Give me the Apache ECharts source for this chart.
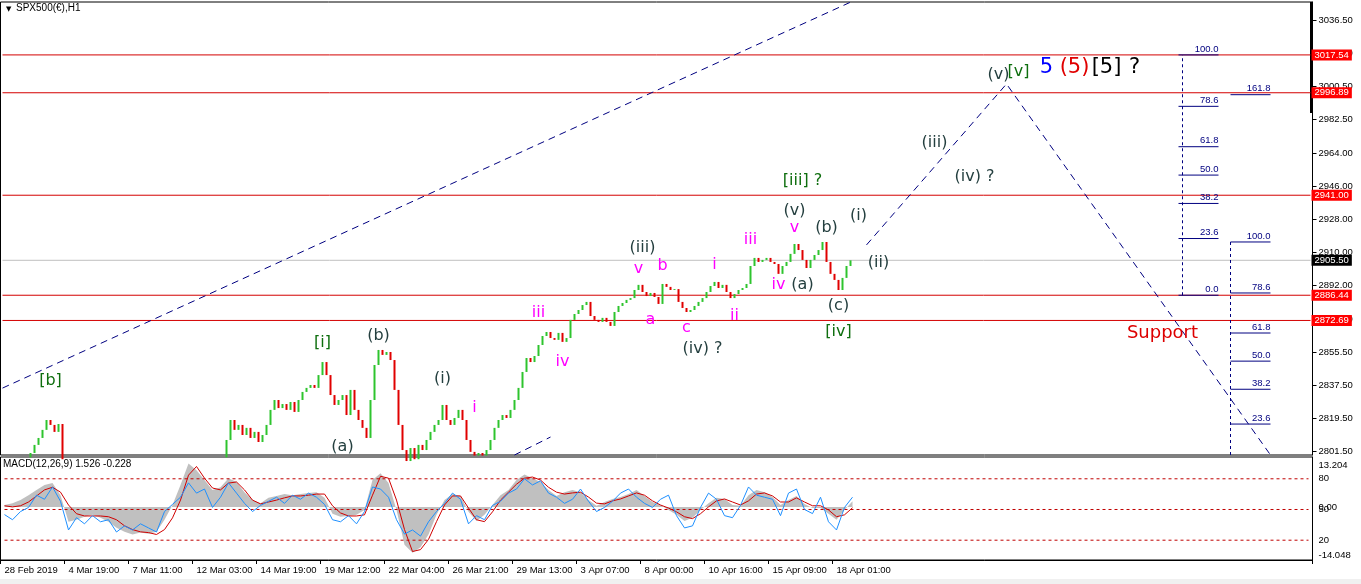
<!DOCTYPE html>
<html><head><meta charset="utf-8">
<script src="https://cdn.jsdelivr.net/npm/echarts@6/dist/echarts.min.js"></script>
<style>html,body{margin:0;padding:0;background:#fff}#c{width:1361px;height:584px}</style>
</head><body><div id="c"></div><script>
// ---- price closes (H1 bars grouped by 4 hours) ----
const closes = [
2795,2796,2794,2795,2797,2796,2798,2800.4,2804.8,2808.6,2813,2818.4,2815.7,2811.9,2816.2,2797,
2790,2788,2786,2788,2785,2783,2785,2782,2780,2778,2780,2777,2775,2777,2774,2772,2774,2771,2770,2772,
2770,2768,2766,2768,2770,2774,2778,2782,2786,2790,2794,2796,2795,2793,2791,2793,2795,2794,2796,2798,
2807.5,2818.4,2813,2815.7,2810.2,2814.1,2808.6,2811.9,2806.4,2810.2,
2815.7,2823.9,2829.3,2824.9,2827.1,2823.9,2828.2,2822.8,2829.3,2833.7,
2835.9,2837.5,2835.9,2842.9,2850,2842.9,2832,2826.6,2829.3,2832,
2821.1,2834.8,2823.9,2818.4,2814.1,2808.6,2829.3,2848.4,2856.6,2853.9,
2855.5,2851.1,2834.8,2815.7,2802,2796,2803.1,2797,2804.8,2802,
2807.5,2811.9,2815.7,2818.4,2826.6,2818.4,2815.7,2819.5,2823.9,2818.4,
2807.5,2801,2799,2800.4,2799,2802,2807.5,2814.1,2818.4,2821.1,
2819.5,2823.9,2829.3,2835.9,2844.6,2852.2,2850,2853.3,2859.3,2864.2,
2866.4,2863.1,2862.1,2865.9,2861,2863.1,2873,2876.2,2878.4,2881.1,
2882.8,2875.1,2873,2871.9,2874.1,2871.9,2869.7,2877.3,2880.6,2882.2,
2883.9,2884.9,2889.3,2892.1,2888.2,2886,2887.7,2885.5,2881.7,2892.6,
2891,2889.3,2889.8,2882.8,2879.5,2877.3,2878.4,2880.6,2882.8,2884.9,
2888.2,2891.5,2893.7,2890.4,2892.1,2888.2,2884.9,2887.1,2889.3,2890.4,
2892.6,2902.4,2906.8,2904.6,2905.7,2906.8,2904.6,2903.5,2898.1,2902.4,
2904.6,2909,2914.4,2911.1,2905.7,2901.3,2905.7,2908.4,2911.1,2915.5,
2904.6,2898.1,2894.8,2889.3,2895.9,2902.4,2905.5
];
const highs = [
2797,2798,2797,2797,2799,2799,2800,2802,2806,2810,2815,2820,2820,2817,2818.5,2817,
2798,2792,2790,2790,2790,2787,2787,2787,2784,2782,2782,2782,2779,2779,2779,2776,2776,2776,2773,2774,
2774,2772,2770,2770,2772,2776,2780,2784,2788,2792,2796,2798,2798,2797,2795,2795,2797,2797,2798,2800,
2809,2820,2820.5,2818,2817,2816,2815,2814,2813,2812,
2817,2826,2832,2831,2830,2829,2831,2830,2831,2836,
2838,2840,2839,2845,2853,2851,2844,2834,2832,2835,
2833,2843,2836,2826,2820,2816,2831,2850,2859,2858,
2858,2857,2852,2836,2817,2804,2806,2805,2807,2806,
2809,2814,2818,2821,2829,2828,2820,2822,2826,2825,
2819,2809,2803,2802.5,2802,2804,2809,2816,2820,2823,
2823,2826,2831,2838,2846,2854,2854,2855,2861,2866,
2869,2868,2865,2868,2867,2865,2875,2878.5,2881,2883.5,
2885,2884,2877,2875.5,2877,2876,2874,2879,2882.5,2884,
2886,2887,2891,2894,2893,2890,2890,2889.5,2887,2894.5,
2894,2892.5,2892,2891,2884.5,2881,2880.5,2882.5,2884.5,2887,
2890,2893.5,2895.5,2894.5,2894.5,2893.5,2889.5,2889,2891,2892.5,
2894.5,2904,2909,2908.5,2908,2909,2908.5,2906.5,2905,2904,
2906.5,2911,2917,2916,2912.5,2907,2907.5,2910.5,2913,2918.6,
2916.5,2906,2900,2896,2898,2904,2908.5
];
const lows = [
2793,2794,2792,2793,2794,2794,2795,2797,2799,2803,2807,2812,2814,2810,2810.5,2795,
2788,2786,2784,2784,2783,2781,2781,2780,2778,2776,2776,2775,2773,2773,2772,2770,2770,2769,2768,2768,
2768,2766,2764,2764,2766,2768,2772,2776,2780,2784,2788,2792,2793,2791,2789,2789,2791,2792,2792,2794,
2797,2806,2811,2811,2808,2808,2806,2807,2804,2805,
2809,2814,2822,2823,2823,2821,2822,2820,2821,2828,
2832,2834,2834,2835,2841,2840,2829,2823,2825,2827,
2818,2820,2822,2816,2812,2806.5,2807,2828,2847,2852,
2852,2848,2832,2813,2799,2793,2794,2795,2796,2800,
2801,2806,2810,2814,2817,2816,2813,2814,2818,2816,
2805,2799,2797,2797,2797,2797.5,2800.5,2806,2812,2816.5,
2817,2818,2822,2828,2834,2843,2848,2848.5,2852,2857,
2862.5,2861,2860,2860.5,2857,2859,2862,2871,2874.5,2877,
2879,2864,2871,2869,2870,2869.5,2865,2868.5,2876,2879,
2880.5,2882,2883.5,2888,2886.5,2884,2884.5,2883.5,2878.5,2881,
2889,2887.5,2887.5,2880.5,2877,2875,2875.5,2876.5,2879,2881,
2883.5,2887,2890,2888.5,2889,2886,2881.5,2883,2885.5,2887.5,
2889,2891.5,2901,2903,2903,2904,2903,2901.5,2893.5,2897,
2901,2903.5,2908,2909.5,2904,2896.5,2900,2904.5,2907,2910,
2902,2895.5,2891.5,2885.5,2887.5,2891,2900.5
];
// ---- MACD pane (8-hour steps) ----
const macdMain = [
0.5,1.0,1.8,3.1,4.5,5.8,6.3,3.1,-3.9,-3.4,-2.6,-2.1,-2.9,-3.9,-5.5,-6.6,-7.3,-6.8,-7.1,-6.6,
-3.4,0.5,5.8,11.5,9.7,7.1,4.5,5.2,7.6,6.6,3.9,1.8,1.0,2.4,2.9,3.4,3.1,3.4,3.7,3.9,
2.4,-1.8,-2.6,-2.4,-2.1,-0.8,7.1,8.9,6.3,-0.8,-10.0,-12.1,-10.7,-7.3,-2.1,1.8,3.4,2.9,-1.3,-3.7,
-2.1,0.5,3.1,4.5,7.1,8.6,7.6,6.6,4.5,2.9,3.9,4.5,3.9,1.8,0.3,1.3,2.1,2.6,3.4,4.5,
2.9,1.3,0.5,-0.8,-2.1,-3.7,-2.9,-0.8,1.0,2.4,2.1,0.5,0.3,3.1,4.5,3.9,2.6,0.5,1.8,2.9,
0.8,-0.3,-0.3,-1.8,-3.4,-0.8,1.526
];
const macdSignal = [
0.3,0,0.3,1.3,2.9,4.5,5.2,3.9,0.5,-1.8,-2.4,-2.4,-2.4,-2.6,-3.4,-5.0,-6.0,-6.6,-6.8,-7.3,
-6.0,-2.9,1.8,8.4,10.7,7.6,5.0,4.5,6.3,6.6,4.5,1.8,0.8,1.3,1.8,2.4,2.9,2.9,3.1,3.4,
3.4,0.3,-1.6,-2.4,-2.4,-2.1,3.1,8.1,7.6,1.8,-6.0,-11.8,-11.3,-8.6,-3.9,0.5,2.9,2.9,-0.3,-3.4,
-3.9,-1.3,1.8,3.9,6.0,7.6,7.9,7.1,5.2,3.9,3.4,3.7,3.9,2.6,1.0,0.8,1.6,2.1,2.9,3.7,
3.1,1.6,0.5,-0.3,-1.3,-2.6,-3.1,-1.8,0,1.6,2.1,1.3,0.5,1.6,3.4,3.7,2.9,1.3,1.3,2.4,
1.3,0.3,0.3,-0.8,-2.6,-2.1,-0.228
];
const oscLine = [
45,40,48,52,64,60,72,58,30,42,36,44,38,40,28,34,30,36,32,28,
48,55,62,76,66,70,52,62,76,66,56,48,54,58,62,56,64,60,66,62,
55,40,38,44,36,48,72,70,62,40,26,30,24,38,48,56,66,60,36,44,
40,54,58,66,70,80,74,78,66,62,56,60,70,58,48,52,58,66,70,62,
56,52,60,64,44,32,34,52,66,60,44,42,54,72,64,62,60,44,66,70,
50,46,62,38,30,52,62
];
const oscLevels = [80, 50, 20];
const xTickLabels = ["28 Feb 2019","4 Mar 19:00","7 Mar 11:00","12 Mar 03:00","14 Mar 19:00","19 Mar 12:00","22 Mar 04:00","26 Mar 21:00","29 Mar 13:00","3 Apr 07:00","8 Apr 00:00","10 Apr 16:00","15 Apr 09:00","18 Apr 01:00"];
const yTickValues = [2801.5,2819.5,2837.5,2855.5,2873.5,2892,2910,2928,2946,2964,2982.5,3000.5,3018.5,3036.5];
const hLevels = [3017.54, 2996.89, 2941.00, 2886.44, 2872.69];
const lastPrice = 2905.50;
const fibA = {zero: 2886.44, full: 3017.54, ratios: [0, 23.6, 38.2, 50, 61.8, 78.6, 100]};
const fibB = {zero: 2785.5, full: 2915.5, ratios: [23.6, 38.2, 50, 61.8, 78.6, 100, 161.8]};
// trendlines: [category, price] pairs
const trendLines = [
  [[0, 2835.8], [212, 3046.3]],
  [[128, 2799.3], [137, 2809.1]],
  [[216, 2913.9], [251, 3001.7], [317, 2799.3]]
];
// annotations: text, category, price, style
const annotations = [
 ["[b]",12,2839.7,"g"],["[i]",80,2860.4,"g"],["(b)",94,2864.2,"s"],["(a)",85,2803.5,"s"],
 ["(i)",110,2840.8,"s"],["i",118,2824.9,"m"],["iii",134,2876.8,"m"],["iv",140,2850.0,"m"],
 ["(iii)",160,2912.2,"s"],["v",159,2900.8,"m"],["b",165,2902.4,"m"],["a",162,2873.0,"m"],
 ["c",171,2868.6,"m"],["(iv) ?",175,2857.1,"s"],["i",178,2903.0,"m"],["ii",183,2875.1,"m"],
 ["iii",187,2916.6,"m"],["iv",194,2892.0,"m"],["[iii] ?",200,2948.8,"g"],["(v)",198,2932.4,"s"],
 ["v",198,2923.1,"m"],["(b)",206,2923.1,"s"],["(a)",200,2892.0,"s"],["(c)",209,2880.6,"s"],
 ["[iv]",209,2866.4,"g"],["(i)",214,2929.7,"s"],["(ii)",219,2904.0,"s"],["(iii)",233,2969.5,"s"],
 ["(iv) ?",243,2951.0,"s"],["(v)",249,3006.6,"s"],["[v]",254,3008.2,"g"],
 ["5",261,3010.9,"B5"],["(5)",268,3010.9,"R5"],["[5]",276,3010.9,"K5"],["?",283,3010.9,"K5"],
 ["Support",290,2865.8,"sup"]
];
const annStyles = {
  g:{color:'#0E6E0E',fontSize:16}, s:{color:'#243F3F',fontSize:16}, m:{color:'#FF00FF',fontSize:16},
  B5:{color:'#0000FF',fontSize:21}, R5:{color:'#E00000',fontSize:21}, K5:{color:'#000000',fontSize:21},
  sup:{color:'#DD0000',fontSize:18}
};

const NCAT = 328, NCAT2 = 164;
const cats = Array.from({length:NCAT}, (_,i)=>String(i));
const cats2 = Array.from({length:NCAT2}, (_,j)=> (j%8===0 && j/8 < xTickLabels.length) ? xTickLabels[j/8] : '');
const opens = closes.map((c,i)=> i ? closes[i-1] : c);
const wickData = closes.map((c,i)=>[lows[i], highs[i], lows[i], highs[i]]);
const bodyData = closes.map((c,i)=>[opens[i], c, Math.min(opens[i],c), Math.max(opens[i],c)]);

const NAVY = '#000080';
const FONT = 'Liberation Sans';
const overlay = [];
function seg(points, color, type, xi, yi, endLabel, z){
  overlay.push({type:'line', xAxisIndex:xi||0, yAxisIndex:yi||0, data:points, showSymbol:false, symbol:'none',
    silent:true, animation:false, z:z||3, clip:false,
    lineStyle:{color:color, width:1, type:type||'solid'},
    endLabel: endLabel || {show:false}});
}
const tag = (txt,bg)=>({show:true,formatter:txt,distance:1,backgroundColor:bg,color:'#fff',fontFamily:FONT,fontSize:9.5,padding:[1,3,0,3]});
hLevels.forEach(v=>seg([[0,v],[NCAT-1,v]], '#D40000', 'solid', 0, 0, tag(v.toFixed(2),'#FF0000')));
seg([[0,lastPrice],[NCAT-1,lastPrice]], '#C0C0C0', 'solid', 0, 0, tag(lastPrice.toFixed(2),'#000'), 2);
trendLines.forEach(t=>seg(t, NAVY, [7,5]));
function fib(f, c0, c1, cv, bottom){
  const rng = f.full - f.zero;
  seg([[cv, bottom!==undefined?bottom:f.zero],[cv, f.full]], NAVY, [3,3]);
  f.ratios.forEach(r=>{
    const p = f.zero + r/100*rng;
    seg([[c0,p],[c1,p]], NAVY, 'solid', 0, 0,
      {show:true,formatter:r.toFixed(1),align:'right',verticalAlign:'bottom',distance:0,offset:[0,-1],color:NAVY,fontFamily:FONT,fontSize:9.5});
  });
}
fib(fibA, 294, 304, 295);
fib(fibB, 307, 317, 307, 2799.3);
oscLevels.forEach(v=>seg([[0,v],[NCAT2-1,v]], '#C00000', [3,3], 1, 2));

const annData = annotations.map(a=>({value:[a[1],a[2]], label:{show:true,position:'inside',formatter:a[0],
  color:annStyles[a[3]].color,fontSize:annStyles[a[3]].fontSize,fontFamily:'DejaVu Sans',
  textBorderWidth:0,textShadowBlur:0,opacity:1}}));

const chart = echarts.init(document.getElementById('c'), null, {renderer:'canvas'});
const axLbl = {color:'#000',fontFamily:FONT,fontSize:9.5};
chart.setOption({
  animation:false,
  backgroundColor:'#fff',
  grid:[
    {left:0.5,right:48.5,top:2,height:453,show:true,borderColor:'#000',borderWidth:1,backgroundColor:'#fff'},
    {left:0.5,right:48.5,top:457,height:103,show:true,borderColor:'#000',borderWidth:1,backgroundColor:'#fff'}
  ],
  xAxis:[
    {type:'category',gridIndex:0,data:cats,boundaryGap:true,axisLine:{show:false},axisTick:{show:false},axisLabel:{show:false},splitLine:{show:false}},
    {type:'category',gridIndex:1,data:cats2,boundaryGap:true,position:'bottom',axisLine:{show:true,onZero:false,lineStyle:{color:'#000'}},
      axisTick:{show:true,length:4,interval:(i,v)=>v!=='',lineStyle:{color:'#000'}},
      axisLabel:Object.assign({show:true,align:'left',margin:5,interval:(i,v)=>v!==''},axLbl),splitLine:{show:false}}
  ],
  yAxis:[
    {type:'value',gridIndex:0,position:'right',min:2799.3,max:3046.4,scale:true,splitLine:{show:false},
      axisLine:{show:true,lineStyle:{color:'#000'}},
      axisTick:{show:true,length:4,customValues:yTickValues,lineStyle:{color:'#000'}},
      axisLabel:Object.assign({customValues:yTickValues,formatter:v=>v.toFixed(2),margin:6},axLbl)},
    {type:'value',gridIndex:1,position:'right',min:-14.048,max:13.204,splitLine:{show:false},
      axisLine:{show:true,lineStyle:{color:'#000'}},
      axisTick:{show:false},
      axisLabel:Object.assign({customValues:[-14.048,0,13.204],margin:6,
        formatter:v=> v>13 ? '{t|13.204}' : (v< -14 ? '{b|-14.048}' : '0.00'),
        rich:{t:{padding:[16,0,0,0],fontFamily:FONT,fontSize:9.5,color:'#000'},b:{padding:[0,0,10,0],fontFamily:FONT,fontSize:9.5,color:'#000'}}},axLbl)},
    {type:'value',gridIndex:1,position:'right',min:0.645,max:101.29,splitLine:{show:false},
      axisLine:{show:false},axisTick:{show:false},
      axisLabel:Object.assign({customValues:oscLevels,margin:6,formatter:v=>String(v)},axLbl)}
  ],
  series:[
    {type:'line',xAxisIndex:1,yAxisIndex:1,data:macdMain,showSymbol:false,lineStyle:{width:0,color:'#C0C0C0'},
      areaStyle:{color:'#C0C0C0',opacity:1,origin:0},silent:true,z:1},
    {type:'candlestick',xAxisIndex:0,yAxisIndex:0,data:wickData,barWidth:1,clip:true,silent:true,z:4,
      itemStyle:{color:'#9C6418',color0:'#9C6418',borderColor:'#9C6418',borderColor0:'#9C6418',borderWidth:0}},
    {type:'candlestick',xAxisIndex:0,yAxisIndex:0,data:bodyData,barWidth:3,clip:true,silent:true,z:4,
      itemStyle:{color:'#2EC42E',color0:'#E00000',borderColor:'#2EC42E',borderColor0:'#E00000',borderWidth:0}},
    {type:'scatter',xAxisIndex:0,yAxisIndex:0,symbolSize:1,itemStyle:{color:'rgba(0,0,0,0)'},z:6,data:annData,silent:true},
    {type:'line',xAxisIndex:1,yAxisIndex:1,data:macdSignal,showSymbol:false,lineStyle:{width:1,color:'#D00000'},silent:true,z:4},
    {type:'line',xAxisIndex:1,yAxisIndex:2,data:oscLine,showSymbol:false,lineStyle:{width:1,color:'#1E90FF'},silent:true,z:5}
  ].concat(overlay),
  graphic:[
    {type:'text',left:6,top:6,style:{text:'\u25BC',fontSize:7,fill:'#000',fontFamily:'DejaVu Sans'}},
    {type:'text',left:16,top:3,style:{text:'SPX500(€),H1',fontSize:10,fill:'#000',fontFamily:FONT}},
    {type:'text',left:3,top:459,style:{text:'MACD(12,26,9) 1.526 -0.228',fontSize:10,fill:'#000',fontFamily:FONT}},
    {type:'rect',left:1310,top:2,shape:{width:3,height:111},style:{fill:'#000'}},
    {type:'rect',left:0,top:579,shape:{width:1361,height:5},style:{fill:'#F0F0F0'}}
  ]
});
</script></body></html>
